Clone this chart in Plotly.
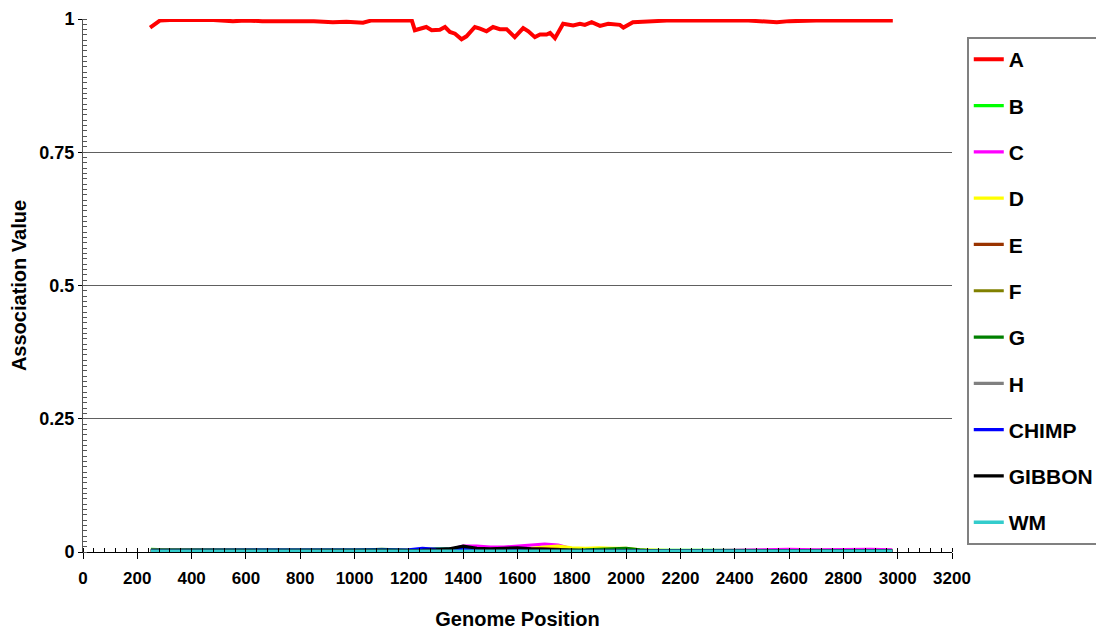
import plotly.graph_objects as go

# ---- data ----
A_X = [247, 262, 283, 320, 400, 480, 552, 600, 660, 725, 780, 850, 920, 970, 1031, 1060, 1120, 1170, 1211,
       1222, 1241, 1264, 1284, 1314, 1333, 1351, 1370, 1394, 1412, 1443, 1462, 1486, 1510, 1535, 1560, 1590,
       1621, 1640, 1664, 1683, 1707, 1720, 1738, 1768, 1805, 1830, 1848, 1873, 1904, 1934, 1977, 1990, 2025,
       2077, 2150, 2250, 2350, 2450, 2555, 2600, 2700, 2800, 2900, 2982]
A_Y = [0.984, 0.990, 0.997, 0.998, 0.998, 0.998, 0.996, 0.997, 0.996, 0.996, 0.997, 0.996, 0.994, 0.995, 0.993,
       0.997, 0.997, 0.998, 0.997, 0.979, 0.982, 0.985, 0.979, 0.980, 0.985, 0.9756, 0.9725, 0.962, 0.9675,
       0.985, 0.982, 0.977, 0.985, 0.981, 0.981, 0.966, 0.983, 0.977, 0.966, 0.971, 0.971, 0.974, 0.964, 0.991,
       0.988, 0.991, 0.989, 0.994, 0.987, 0.991, 0.989, 0.984, 0.994, 0.996, 0.997, 0.997, 0.997, 0.997, 0.994,
       0.996, 0.997, 0.997, 0.996, 0.997]

X_MINOR = [250, 300, 400, 500, 600, 700, 800, 900, 1000, 1100, 1200, 1250, 1300, 1350, 1400, 1450, 1500,
           1550, 1600, 1650, 1700, 1750, 1800, 1850, 1900, 1950, 2000, 2050, 2100, 2200, 2300, 2400, 2500,
           2600, 2700, 2800, 2900, 2980]

B_Y = [0.005, 0.004, 0.004, 0.004, 0.005, 0.004, 0.005, 0.004, 0.004, 0.004, 0.003, 0.003, 0.003, 0.003,
       0.003, 0.003, 0.003, 0.003, 0.003, 0.003, 0.003, 0.003, 0.003, 0.003, 0.003, 0.003, 0.003, 0.004,
       0.004, 0.004, 0.003, 0.003, 0.003, 0.003, 0.003, 0.003, 0.003, 0.003]
C_Y = [0.002, 0.002, 0.002, 0.002, 0.002, 0.002, 0.002, 0.002, 0.002, 0.002, 0.002, 0.003, 0.003, 0.004,
       0.011, 0.011, 0.009, 0.009, 0.011, 0.012, 0.015, 0.013, 0.006, 0.004, 0.003, 0.003, 0.003, 0.002,
       0.002, 0.002, 0.002, 0.003, 0.004, 0.005, 0.004, 0.005, 0.005, 0.004]
D_Y = [0.002, 0.002, 0.002, 0.002, 0.002, 0.002, 0.002, 0.002, 0.002, 0.002, 0.002, 0.002, 0.002, 0.002,
       0.002, 0.002, 0.002, 0.002, 0.004, 0.007, 0.009, 0.011, 0.008, 0.007, 0.008, 0.007, 0.007, 0.004,
       0.003, 0.002, 0.002, 0.002, 0.002, 0.002, 0.002, 0.002, 0.002, 0.002]
E_Y = [0.001, 0.001, 0.001, 0.001, 0.001, 0.001, 0.001, 0.001, 0.001, 0.001, 0.001, 0.001, 0.001, 0.001,
       0.002, 0.002, 0.002, 0.003, 0.005, 0.006, 0.006, 0.005, 0.002, 0.001, 0.001, 0.001, 0.001, 0.001,
       0.001, 0.001, 0.001, 0.001, 0.001, 0.001, 0.001, 0.001, 0.001, 0.001]
F_Y = [0.004, 0.004, 0.003, 0.003, 0.003, 0.003, 0.003, 0.003, 0.003, 0.003, 0.003, 0.003, 0.003, 0.003,
       0.003, 0.003, 0.003, 0.003, 0.003, 0.003, 0.003, 0.003, 0.003, 0.003, 0.003, 0.003, 0.003, 0.003,
       0.002, 0.002, 0.002, 0.002, 0.002, 0.002, 0.002, 0.002, 0.002, 0.002]
G_Y = [0.003, 0.003, 0.003, 0.003, 0.003, 0.003, 0.004, 0.003, 0.003, 0.005, 0.003, 0.004, 0.006, 0.006,
       0.004, 0.003, 0.003, 0.003, 0.003, 0.003, 0.003, 0.003, 0.003, 0.004, 0.005, 0.006, 0.007, 0.004,
       0.002, 0.002, 0.002, 0.002, 0.002, 0.002, 0.002, 0.002, 0.002, 0.002]
H_Y = [0.002, 0.002, 0.002, 0.002, 0.002, 0.002, 0.002, 0.002, 0.002, 0.002, 0.002, 0.002, 0.002, 0.002,
       0.002, 0.002, 0.002, 0.002, 0.002, 0.002, 0.002, 0.002, 0.002, 0.002, 0.002, 0.002, 0.002, 0.002,
       0.002, 0.002, 0.002, 0.002, 0.002, 0.002, 0.002, 0.002, 0.002, 0.002]
CHIMP_Y = [0.003, 0.003, 0.003, 0.003, 0.003, 0.004, 0.004, 0.004, 0.004, 0.003, 0.004, 0.007, 0.005, 0.005,
           0.004, 0.003, 0.003, 0.003, 0.003, 0.003, 0.003, 0.003, 0.002, 0.002, 0.002, 0.002, 0.002, 0.002,
           0.002, 0.002, 0.002, 0.002, 0.002, 0.002, 0.002, 0.002, 0.002, 0.002]
GIBBON_Y = [0.002, 0.002, 0.002, 0.002, 0.002, 0.002, 0.002, 0.002, 0.002, 0.002, 0.002, 0.003, 0.004, 0.006,
            0.011, 0.007, 0.006, 0.007, 0.008, 0.006, 0.005, 0.003, 0.002, 0.002, 0.002, 0.002, 0.002, 0.002,
            0.002, 0.002, 0.002, 0.002, 0.002, 0.002, 0.002, 0.002, 0.002, 0.002]
WM_Y = [0.0015] * len(X_MINOR)

SERIES = [
    ("A", A_X, A_Y, "#FF0000", 4),
    ("B", X_MINOR, B_Y, "#00FF00", 3.2),
    ("C", X_MINOR, C_Y, "#FF00FF", 3.2),
    ("D", X_MINOR, D_Y, "#FFFF00", 3.2),
    ("E", X_MINOR, E_Y, "#993300", 3.2),
    ("F", X_MINOR, F_Y, "#808000", 3.2),
    ("G", X_MINOR, G_Y, "#008000", 3.2),
    ("H", X_MINOR, H_Y, "#808080", 3.2),
    ("CHIMP", X_MINOR, CHIMP_Y, "#0000FF", 3.2),
    ("GIBBON", X_MINOR, GIBBON_Y, "#000000", 3.2),
    ("WM", X_MINOR, WM_Y, "#33CCCC", 3.5),
]

X_TICKS = list(range(0, 3201, 200))
Y_TICKS = [0, 0.25, 0.5, 0.75, 1]
Y_TICK_TEXT = ["0", "0.25", "0.5", "0.75", "1"]

FONT = "Liberation Sans, Arial, sans-serif"

fig = go.Figure()
for name, xs, ys, color, w in SERIES:
    fig.add_trace(go.Scatter(x=xs, y=ys, mode="lines", name=name, legendgroup=name,
                             line=dict(color=color, width=w)))

fig.update_layout(
    width=1104, height=630,
    margin=dict(l=75, r=160, t=11, b=86, autoexpand=False),
    paper_bgcolor="white", plot_bgcolor="white",
    font=dict(family=FONT, color="black", size=17, weight="bold"),
    showlegend=True,
    legend=dict(
        x=1.017, y=0.966, xanchor="left", yanchor="top",
        bordercolor="#808080", borderwidth=2,
        font=dict(family=FONT, size=21, weight="bold", color="black"),
        tracegroupgap=16, traceorder="grouped", itemwidth=30,
        entrywidth=130, entrywidthmode="pixels",
    ),
    xaxis=dict(
        range=[0, 3200], tickvals=X_TICKS, ticktext=[str(v) for v in X_TICKS],
        automargin=False,
        ticks="outside", ticklen=6, tickcolor="black", tickwidth=1,
        ticklabelstandoff=5,
        minor=dict(dtick=40, tick0=0, ticks="inside", ticklen=4, tickcolor="black", showgrid=False),
        showline=True, linecolor="black", linewidth=1,
        showgrid=False, zeroline=False,
        tickfont=dict(family=FONT, size=17, weight="bold"),
        title=dict(text="Genome Position", standoff=24,
                   font=dict(family=FONT, size=20, weight="bold")),
    ),
    yaxis=dict(
        range=[0, 1], tickvals=Y_TICKS, ticktext=Y_TICK_TEXT,
        automargin=False,
        ticks="outside", ticklen=4, tickcolor="black", tickwidth=1,
        minor=dict(dtick=0.01, tick0=0, ticks="inside", ticklen=4, tickcolor="#555", showgrid=False),
        showline=True, linecolor="#555", linewidth=1,
        showgrid=True, gridcolor="#606060", gridwidth=1, zeroline=False,
        tickfont=dict(family=FONT, size=18, weight="bold"),
        title=dict(text="Association Value", standoff=10,
                   font=dict(family=FONT, size=20, weight="bold")),
    ),
)

fig.write_html("out.html")
